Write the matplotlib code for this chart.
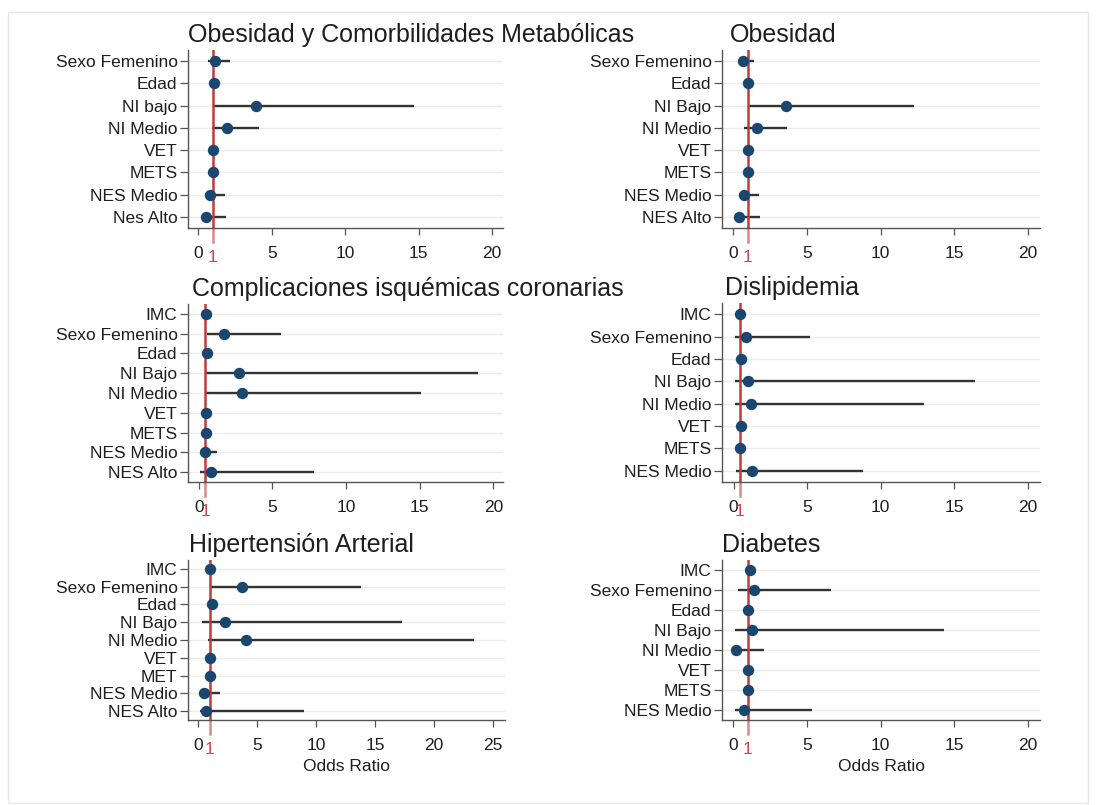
import matplotlib
matplotlib.use("Agg")
import matplotlib.pyplot as plt
from matplotlib.lines import Line2D
from matplotlib.patches import Rectangle
import matplotlib.transforms as mtransforms

plt.rcParams['font.family'] = ['Liberation Sans', 'DejaVu Sans']

# ---------------- data ----------------
p1_title = "Obesidad y Comorbilidades Metabólicas"
p1_labels = ["Sexo Femenino", "Edad", "NI bajo", "NI Medio", "VET", "METS", "NES Medio", "Nes Alto"]
p1_or = [1.13, 1.05, 3.96, 1.93, 1.0, 1.0, 0.79, 0.52]
p1_lo = [0.68, 1.0, 1.0, 0.95, 0.98, 0.98, 0.45, 0.23]
p1_hi = [2.15, 1.1, 14.72, 4.15, 1.02, 1.02, 1.81, 1.88]
p1_ref = 0.98

p2_title = "Obesidad"
p2_labels = ["Sexo Femenino", "Edad", "NI Bajo", "NI Medio", "VET", "METS", "NES Medio", "NES Alto"]
p2_or = [0.68, 1.0, 3.59, 1.63, 1.0, 1.0, 0.77, 0.38]
p2_lo = [0.35, 0.98, 1.0, 0.77, 0.98, 0.98, 0.43, 0.12]
p2_hi = [1.45, 1.02, 12.25, 3.66, 1.02, 1.02, 1.74, 1.81]
p2_ref = 0.99

p3_title = "Complicaciones isquémicas coronarias"
p3_labels = ["IMC", "Sexo Femenino", "Edad", "NI Bajo", "NI Medio", "VET", "METS", "NES Medio", "NES Alto"]
p3_or = [0.52, 1.70, 0.54, 2.74, 2.92, 0.50, 0.50, 0.39, 0.82]
p3_lo = [0.50, 0.57, 0.52, 0.41, 0.52, 0.48, 0.48, 0.07, 0.07]
p3_hi = [0.54, 5.55, 0.56, 18.98, 15.06, 0.52, 0.52, 1.25, 7.81]
p3_ref = 0.45

p4_title = "Dislipidemia"
p4_labels = ["IMC", "Sexo Femenino", "Edad", "NI Bajo", "NI Medio", "VET", "METS", "NES Medio"]
p4_or = [0.45, 0.86, 0.50, 0.95, 1.18, 0.48, 0.45, 1.22]
p4_lo = [0.43, 0.11, 0.48, 0.07, 0.07, 0.46, 0.43, 0.16]
p4_hi = [0.47, 5.20, 0.52, 16.42, 12.96, 0.50, 0.47, 8.79]
p4_ref = 0.41

p5_title = "Hipertensión Arterial"
p5_labels = ["IMC", "Sexo Femenino", "Edad", "NI Bajo", "NI Medio", "VET", "MET", "NES Medio", "NES Alto"]
p5_or = [1.02, 3.71, 1.13, 2.26, 4.02, 1.0, 1.0, 0.48, 0.68]
p5_lo = [1.0, 1.02, 1.1, 0.31, 0.82, 0.98, 0.98, 0.06, 0.11]
p5_hi = [1.04, 13.76, 1.16, 17.30, 23.41, 1.02, 1.02, 1.87, 8.95]
p5_ref = 0.96

p6_title = "Diabetes"
p6_labels = ["IMC", "Sexo Femenino", "Edad", "NI Bajo", "NI Medio", "VET", "METS", "NES Medio"]
p6_or = [1.15, 1.45, 1.0, 1.29, 0.23, 1.0, 1.0, 0.72]
p6_lo = [1.13, 0.32, 0.98, 0.14, 0.05, 0.98, 0.98, 0.16]
p6_hi = [1.17, 6.64, 1.02, 14.28, 2.08, 1.02, 1.02, 5.36]
p6_ref = 0.99

panels = [
    (p1_title, p1_labels, p1_or, p1_lo, p1_hi, p1_ref, [0, 5, 10, 15, 20], (-0.7, 20.75), False),
    (p2_title, p2_labels, p2_or, p2_lo, p2_hi, p2_ref, [0, 5, 10, 15, 20], (-0.75, 20.8), False),
    (p3_title, p3_labels, p3_or, p3_lo, p3_hi, p3_ref, [0, 5, 10, 15, 20], (-0.73, 20.65), False),
    (p4_title, p4_labels, p4_or, p4_lo, p4_hi, p4_ref, [0, 5, 10, 15, 20], (-0.79, 20.84), False),
    (p5_title, p5_labels, p5_or, p5_lo, p5_hi, p5_ref, [0, 5, 10, 15, 20, 25], (-0.88, 26.0), True),
    (p6_title, p6_labels, p6_or, p6_lo, p6_hi, p6_ref, [0, 5, 10, 15, 20], (-0.75, 20.8), True),
]

# axes boxes in pixels: left, right, top, bottom ; title x-offset in px
boxes = [
    (188, 503, 50, 228, 0),
    (722, 1040, 50, 228, 8),
    (188, 503, 304, 482, 4),
    (722, 1040, 303, 482, 3),
    (188, 505, 560, 720, 1),
    (722, 1040, 560, 720, 0),
]

W, H = 1098, 805
fig = plt.figure(figsize=(W / 100, H / 100), dpi=100)
fig.patch.set_facecolor("white")

# faint screenshot frame
fig.patches.append(Rectangle((8 / W, 1 - 803 / H), (1088 - 8) / W, (803 - 12) / H,
                             transform=fig.transFigure, fill=False,
                             edgecolor="#e6e6e6", linewidth=1.0))

navy = "#1a476f"
red = "#c23b3b"
txt = "#1e1e1e"
FS = 12.5

for (title, labels, orv, lo, hi, ref, xt, xl, xlab), (l, r, t, b, tx) in zip(panels, boxes):
    ax = fig.add_axes([l / W, 1 - b / H, (r - l) / W, (b - t) / H])
    n = len(labels)
    ys = list(range(n))
    ax.set_ylim(n - 0.5, -0.5)
    ax.set_xlim(*xl)
    for y in ys:
        ax.axhline(y, color="#ececec", linewidth=1.0, zorder=0)
    ax.hlines(ys, lo, hi, color="#333333", linewidth=1.7, zorder=2)
    ax.axvline(ref, color=red, linewidth=1.8, zorder=3)
    ax.plot(orv, ys, "o", color=navy, markersize=8.2, markeredgewidth=0, zorder=4)

    ax.set_yticks(ys)
    ax.set_yticklabels(labels, fontsize=FS, color=txt)
    ax.set_xticks(xt)
    ax.set_xticklabels([str(v) for v in xt], fontsize=FS, color=txt)
    ax.tick_params(axis="y", length=5.5, width=0.9, color="#555555", pad=2)
    ax.tick_params(axis="x", length=5, width=0.9, color="#555555", pad=8)
    for s in ["top", "right"]:
        ax.spines[s].set_visible(False)
    for s in ["left", "bottom"]:
        ax.spines[s].set_color("#555555")
        ax.spines[s].set_linewidth(1.0)

    # red reference tick and label "1"
    trans = ax.get_xaxis_transform()
    ax.add_line(Line2D([ref, ref], [0, -0.08 * 178 / (b - t)], transform=trans,
                       color=red, linewidth=1.8, clip_on=False, alpha=0.6))
    off = mtransforms.offset_copy(trans, fig=fig, x=0, y=-16, units="points")
    ax.text(ref, 0, "1", transform=off, color="#d04848", fontsize=FS,
            ha="center", va="top")

    title_t = mtransforms.offset_copy(ax.transAxes, fig=fig, x=tx, y=0, units="dots")
    ax.text(0, 1, title, transform=mtransforms.offset_copy(title_t, fig=fig, x=0, y=8, units="dots"),
            fontsize=18, color=txt, ha="left", va="baseline")
    if xlab:
        ax.set_xlabel("Odds Ratio", fontsize=FS, color=txt, labelpad=4)

fig.savefig("out.png", dpi=100, facecolor="white")
